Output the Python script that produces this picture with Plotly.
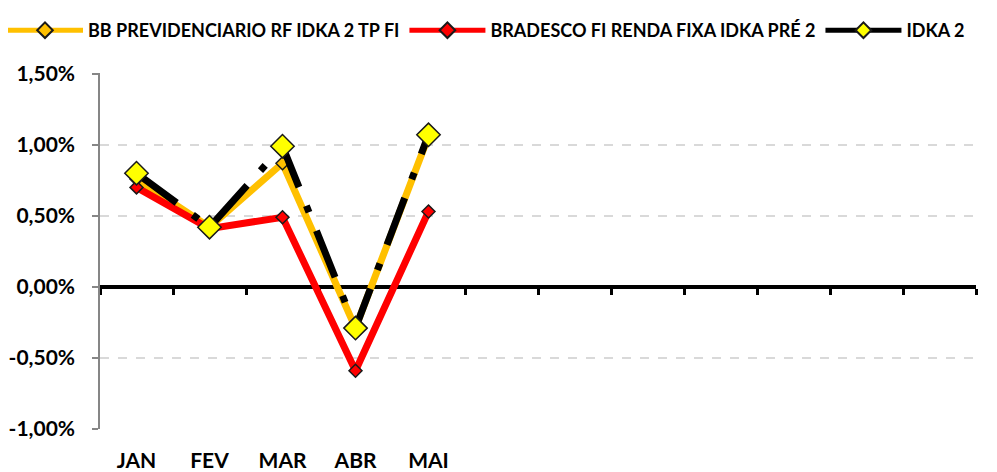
import plotly.graph_objects as go

months = ["JAN", "FEV", "MAR", "ABR", "MAI", "JUN", "JUL", "AGO", "SET", "OUT", "NOV", "DEZ"]
month_labels = ["JAN", "FEV", "MAR", "ABR", "MAI", "", "", "", "", "", "", ""]

bb_name = "BB PREVIDENCIARIO RF IDKA 2 TP FI"
bb_values = [0.76, 0.42, 0.87, -0.29, 1.06]

bradesco_name = "BRADESCO FI RENDA FIXA IDKA PRÉ 2"
bradesco_values = [0.70, 0.41, 0.49, -0.59, 0.53]

idka_name = "IDKA 2"
idka_values = [0.80, 0.42, 0.99, -0.29, 1.07]

y_tickvals = [-1.0, -0.5, 0.0, 0.5, 1.0, 1.5]
y_ticktext = ["-1,00%", "-0,50%", "0,00%", "0,50%", "1,00%", "1,50%"]

FONT = "Lato"
OUTLINE = "#1a1a1a"

# page body has an 8px margin, so the figure is drawn slightly smaller
W, H = 989, 464
ML, MR, MT, MB = 92, 21, 65, 43
plot_w = W - ML - MR
plot_h = H - MT - MB

fig = go.Figure()

fig.add_trace(go.Scatter(
    x=months[:len(bb_values)], y=bb_values, name=bb_name, mode="lines+markers",
    line=dict(color="#FFC000", width=7),
    marker=dict(symbol="diamond", size=10, color="#FFC000", line=dict(color=OUTLINE, width=1.5)),
))
fig.add_trace(go.Scatter(
    x=months[:len(bradesco_values)], y=bradesco_values, name=bradesco_name, mode="lines+markers",
    line=dict(color="#FF0000", width=7),
    marker=dict(symbol="diamond", size=10, color="#FF0000", line=dict(color=OUTLINE, width=1.5)),
))
fig.add_trace(go.Scatter(
    x=months[:len(idka_values)], y=idka_values, name=idka_name, mode="lines+markers",
    line=dict(color="#000000", width=7, dash="50px,20px,7px,20px"),
    marker=dict(symbol="diamond", size=18, color="#FFFF00", line=dict(color=OUTLINE, width=1.5)),
    showlegend=False, legendgroup="idka",
))
# legend entry for IDKA 2 (solid key, as in the original)
fig.add_trace(go.Scatter(
    x=[None], y=[None], name=idka_name, mode="lines+markers", legendgroup="idka",
    line=dict(color="#000000", width=7),
    marker=dict(symbol="diamond", size=18, color="#FFFF00", line=dict(color=OUTLINE, width=1.5)),
    hoverinfo="skip",
))
# helper trace so that the zero-level category axis (ticks at month boundaries) is drawn
fig.add_trace(go.Scatter(
    x=[None], y=[None], xaxis="x2", mode="lines", showlegend=False, hoverinfo="skip",
))

fig.update_layout(
    width=W, height=H,
    margin=dict(l=ML, r=MR, t=MT, b=MB, autoexpand=False),
    paper_bgcolor="white", plot_bgcolor="white",
    font=dict(family=FONT, color="#000000"),
    showlegend=True,
    legend=dict(
        orientation="h", xref="paper", yref="paper",
        x=-(ML + 6) / plot_w, y=1 + (MT - 4) / plot_h, xanchor="left", yanchor="top",
        font=dict(family=FONT, size=18, color="#000000", weight="bold"),
        itemwidth=76, itemsizing="constant", bgcolor="rgba(0,0,0,0)",
    ),
    xaxis=dict(
        type="category", categoryorder="array", categoryarray=months,
        range=[-0.5, len(months) - 0.5],
        tickmode="array", tickvals=months, ticktext=month_labels,
        showline=False, showgrid=False, zeroline=False, ticks="",
        ticklabelstandoff=17,
        tickfont=dict(family=FONT, size=21, weight="bold", color="#000000"),
    ),
    xaxis2=dict(
        overlaying="x", anchor="free", position=0.4, side="bottom",
        range=[0, len(months)], tickmode="linear", tick0=0, dtick=1,
        showticklabels=False, showgrid=False, zeroline=False,
        showline=True, linecolor="#000000", linewidth=3,
        ticks="outside", ticklen=6, tickwidth=3, tickcolor="#000000",
        layer="below traces",
    ),
    yaxis=dict(
        range=[-1.0, 1.505], tickmode="array", tickvals=y_tickvals, ticktext=y_ticktext,
        showgrid=True, gridcolor="#d9d9d9", gridwidth=1.5, griddash="dash",
        zeroline=True, zerolinecolor="#000000", zerolinewidth=3,
        showline=True, linecolor="#868686", linewidth=1.5,
        ticks="outside", ticklen=6, tickwidth=1.5, tickcolor="#868686",
        ticklabelstandoff=13,
        tickfont=dict(family=FONT, size=21, weight="bold", color="#000000"),
    ),
)

fig.write_html("out.html")
